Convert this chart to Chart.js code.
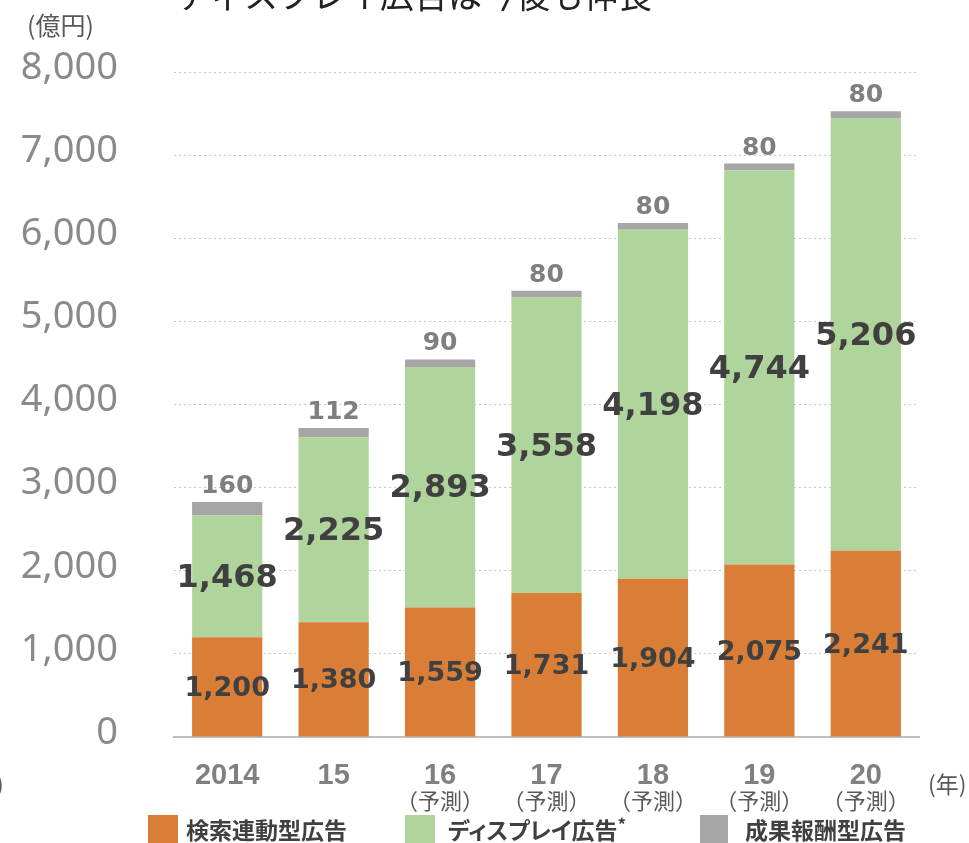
<!DOCTYPE html>
<html>
<head>
<meta charset="utf-8">
<script src="https://cdn.jsdelivr.net/npm/chart.js"></script>
<style>
    body { margin: 0; background: #fff; }
    .wrap { position: relative; width: 969px; height: 843px; overflow: hidden; }
    .legend { position: absolute; top: 815px; height: 28px; display: flex; align-items: center; font-family: 'Noto Sans CJK JP', sans-serif; font-weight: bold; font-size: 23px; color: #404040; font-feature-settings: "palt"; white-space: nowrap; }
    .legend span.box { display: inline-block; width: 30px; height: 28px; margin-right: 8px; }
</style>
</head>
<body>
<div class="wrap">
    <canvas id="chart" width="969" height="843"></canvas>
    <div class="legend" style="left:148px"><span class="box" style="background:#DA7E37"></span>検索連動型広告</div>
    <div class="legend" style="left:405px"><span class="box" style="background:#AFD59C;margin-right:13px"></span>ディスプレイ広告<sup style="font-size:17px;align-self:flex-start;margin-top:-4px">*</sup></div>
    <div class="legend" style="left:700px"><span class="box" style="background:#A6A6A6;margin-right:17px;width:28px"></span>成果報酬型広告</div>
</div>
<script>
// data (億円)
const years = ['2014', '15', '16', '17', '18', '19', '20'];
const forecastFlags = [false, false, true, true, true, true, true];
const searchAds = [1200, 1380, 1559, 1731, 1904, 2075, 2241];
const displayAds = [1468, 2225, 2893, 3558, 4198, 4744, 5206];
const performanceAds = [160, 112, 90, 80, 80, 80, 80];
const seriesNames = ['検索連動型広告', 'ディスプレイ広告*', '成果報酬型広告'];

const fmt = v => v.toLocaleString('en-US');

// labels on the bars + extra texts
const labelPlugin = {
    id: 'labels',
    afterDatasetsDraw(chart) {
        const ctx = chart.ctx;
        ctx.save();
        chart.data.datasets.forEach((ds, di) => {
            const meta = chart.getDatasetMeta(di);
            meta.data.forEach((el, i) => {
                const p = el.getProps(['x', 'y', 'base'], true);
                ctx.textAlign = 'center';
                if (di === 2) {
                    ctx.font = 'bold 25px "DejaVu Sans"';
                    ctx.fillStyle = '#7F7F7F';
                    ctx.textBaseline = 'bottom';
                    ctx.fillText(fmt(ds.data[i]), p.x, p.y - 3);
                } else {
                    ctx.font = di === 0 ? 'bold 27px "DejaVu Sans"' : 'bold 32px "DejaVu Sans"';
                    ctx.fillStyle = '#404040';
                    ctx.textBaseline = 'middle';
                    ctx.fillText(fmt(ds.data[i]), p.x, (p.y + p.base) / 2 + 2);
                }
            });
        });
        ctx.restore();
    },
    afterDraw(chart) {
        const ctx = chart.ctx;
        const x = chart.scales.x;
        ctx.save();
        // forecast marks under the year ticks
        ctx.font = '22px "Noto Sans CJK JP"';
        ctx.fillStyle = '#595959';
        ctx.textAlign = 'center';
        ctx.textBaseline = 'middle';
        forecastFlags.forEach((f, i) => {
            if (f) ctx.fillText('（予測）', x.getPixelForTick(i), 801);
        });
        ctx.textAlign = 'left';
        ctx.font = '23px "Noto Sans CJK JP"';
        ctx.fillText('(年)', 928, 784);
        ctx.fillText(')', -4, 784);
        ctx.font = '25px "Noto Sans CJK JP"';
        ctx.fillText('(億円)', 27, 25);
        // title (cut by the top edge)
        ctx.font = '34px "Noto Sans CJK JP"';
        ctx.fillStyle = '#222';
        ctx.textBaseline = 'alphabetic';
        ctx.fillText('ディスプレイ広告は今後も伸長', 176, 8);
        ctx.restore();
    }
};

new Chart(document.getElementById('chart'), {
    type: 'bar',
    data: {
        labels: years,
        datasets: [
            { label: seriesNames[0], data: searchAds, backgroundColor: '#DA7E37' },
            { label: seriesNames[1], data: displayAds, backgroundColor: '#AFD59C' },
            { label: seriesNames[2], data: performanceAds, backgroundColor: '#A6A6A6' }
        ]
    },
    options: {
        responsive: false,
        animation: false,
        layout: { padding: { top: 72, right: 50, left: 0, bottom: 0 } },
        datasets: { bar: { categoryPercentage: 1, barPercentage: 0.66 } },
        plugins: { legend: { display: false }, tooltip: { enabled: false } },
        scales: {
            x: {
                stacked: true,
                grid: { display: false, drawTicks: false },
                border: { display: true, color: '#BFBFBF', width: 2 },
                ticks: { padding: 22, color: '#808080', font: { family: 'Liberation Sans', weight: 'bold', size: 29 } },
                afterFit(scale) { scale.height = 106; }
            },
            y: {
                stacked: true,
                min: 0,
                max: 8000,
                grid: { color: '#C8C8C8', lineWidth: 1, drawTicks: false },
                border: { display: false, dash: [2, 3] },
                ticks: {
                    stepSize: 1000,
                    padding: 56,
                    labelOffset: -4,
                    color: '#8A8A8A',
                    font: { family: 'Noto Sans', size: 38 },
                    callback: v => fmt(v)
                },
                afterFit(scale) {
                    scale.width = 174;
                    scale.paddingTop = 0;
                    scale.paddingBottom = 0;
                }
            }
        }
    },
    plugins: [labelPlugin]
});
</script>
</body>
</html>
